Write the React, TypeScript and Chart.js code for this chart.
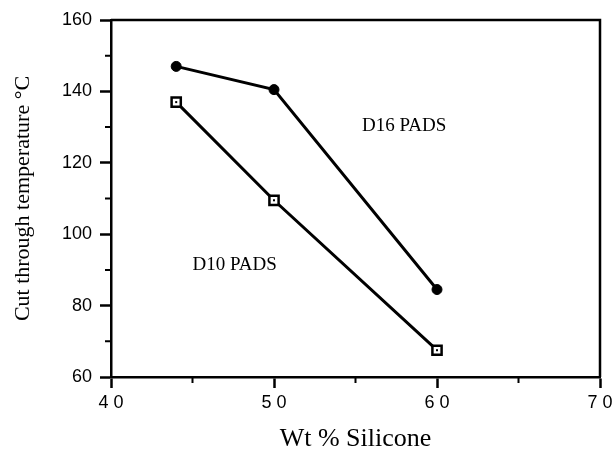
import React, { useEffect, useRef } from "react";
import { Chart, registerables } from "chart.js";

Chart.register(...registerables);

const wtSilicone = [44, 50, 60];
const d16Values = [147, 140.5, 84.5];
const d10Values = [137, 109.5, 67.5];
const xTickLabels = [40, 50, 60, 70];
const xMinorTicks = [45, 55, 65];
const yMinorTicks = [70, 90, 110, 130, 150];
const labelTexts = ["D16 PADS", "D10 PADS"];
const labelX = [55.4, 45.0];
const labelY = [130.3, 91.4];

const decorPlugin = {
  id: "decor",
  afterDraw(chart: any) {
    const { ctx, chartArea, scales } = chart;
    const xs = scales.x;
    const ys = scales.y;
    ctx.save();
    ctx.strokeStyle = "#000";
    ctx.lineWidth = 2.5;
    // top and right frame
    ctx.beginPath();
    ctx.moveTo(chartArea.left, chartArea.top);
    ctx.lineTo(chartArea.right, chartArea.top);
    ctx.lineTo(chartArea.right, chartArea.bottom);
    ctx.stroke();
    // minor ticks
    ctx.lineWidth = 2;
    ctx.beginPath();
    xMinorTicks.forEach((v) => {
      const px = xs.getPixelForValue(v);
      ctx.moveTo(px, chartArea.bottom);
      ctx.lineTo(px, chartArea.bottom + 6);
    });
    yMinorTicks.forEach((v) => {
      const py = ys.getPixelForValue(v);
      ctx.moveTo(chartArea.left, py);
      ctx.lineTo(chartArea.left - 6, py);
    });
    ctx.stroke();
    // centre dots of open squares
    ctx.fillStyle = "#000";
    const meta = chart.getDatasetMeta(1);
    meta.data.forEach((pt: any) => {
      ctx.fillRect(pt.x - 1, pt.y - 1, 2, 2);
    });
    // x tick labels (letter-spaced, as in the original)
    ctx.font = '18px "Liberation Sans", Arial, sans-serif';
    ctx.textBaseline = "middle";
    ctx.textAlign = "center";
    (ctx as any).letterSpacing = "5px";
    xTickLabels.forEach((v) => {
      ctx.fillText(String(v), xs.getPixelForValue(v) + 2.5, chartArea.bottom + 26);
    });
    (ctx as any).letterSpacing = "0px";
    // annotations
    ctx.font = '19px "Liberation Serif", "Times New Roman", serif';
    ctx.textBaseline = "middle";
    ctx.textAlign = "left";
    labelTexts.forEach((t, i) => {
      ctx.fillText(t, xs.getPixelForValue(labelX[i]), ys.getPixelForValue(labelY[i]));
    });
    ctx.restore();
  },
};

export default function App() {
  const canvasRef = useRef<HTMLCanvasElement | null>(null);

  useEffect(() => {
    document.body.style.margin = "0";
    const canvas = canvasRef.current;
    if (!canvas) return;
    const chart = new Chart(canvas, {
      type: "line",
      data: {
        datasets: [
          {
            label: "D16 PADS",
            data: wtSilicone.map((x, i) => ({ x, y: d16Values[i] })),
            borderColor: "#000",
            backgroundColor: "#000",
            borderWidth: 3,
            pointStyle: "circle",
            pointRadius: 5,
            pointBorderWidth: 1,
            pointBackgroundColor: "#000",
            pointBorderColor: "#000",
            tension: 0,
          },
          {
            label: "D10 PADS",
            data: wtSilicone.map((x, i) => ({ x, y: d10Values[i] })),
            borderColor: "#000",
            backgroundColor: "#fff",
            borderWidth: 3,
            pointStyle: "rect",
            pointRadius: 6.5,
            pointBorderWidth: 2.5,
            pointBackgroundColor: "#fff",
            pointBorderColor: "#000",
            tension: 0,
          },
        ],
      },
      options: {
        responsive: false,
        animation: false,
        layout: { padding: { top: 20, right: 13, left: 0, bottom: 0 } },
        plugins: {
          legend: { display: false },
          tooltip: { enabled: false },
        },
        scales: {
          x: {
            type: "linear",
            min: 40,
            max: 70,
            ticks: {
              stepSize: 10,
              display: false,
            },
            grid: {
              drawOnChartArea: false,
              drawTicks: true,
              tickLength: 11,
              tickWidth: 2.5,
              tickColor: "#000",
            },
            border: { display: true, color: "#000", width: 2.5 },
            title: {
              display: true,
              text: "Wt % Silicone",
              color: "#000",
              font: { family: '"Liberation Serif", "Times New Roman", serif', size: 26 },
              padding: { top: 0, bottom: -4 },
            },
            afterFit(scale: any) {
              scale.height = 74;
            },
          },
          y: {
            type: "linear",
            min: 60,
            max: 160,
            ticks: {
              stepSize: 20,
              color: "#000",
              padding: 8,
              font: { family: '"Liberation Sans", Arial, sans-serif', size: 18 },
            },
            grid: {
              drawOnChartArea: false,
              drawTicks: true,
              tickLength: 11,
              tickWidth: 2.5,
              tickColor: "#000",
            },
            border: { display: true, color: "#000", width: 2.5 },
            title: {
              display: true,
              text: "Cut through temperature °C",
              color: "#000",
              font: { family: '"Liberation Serif", "Times New Roman", serif', size: 22 },
              padding: { top: 10, bottom: 0 },
            },
            afterFit(scale: any) {
              scale.width = 111;
            },
          },
        },
      },
      plugins: [decorPlugin],
    } as any);
    return () => chart.destroy();
  }, []);

  return (
    <div style={{ width: 613, height: 451 }}>
      <canvas ref={canvasRef} width={613} height={451} style={{ display: "block" }} />
    </div>
  );
}
